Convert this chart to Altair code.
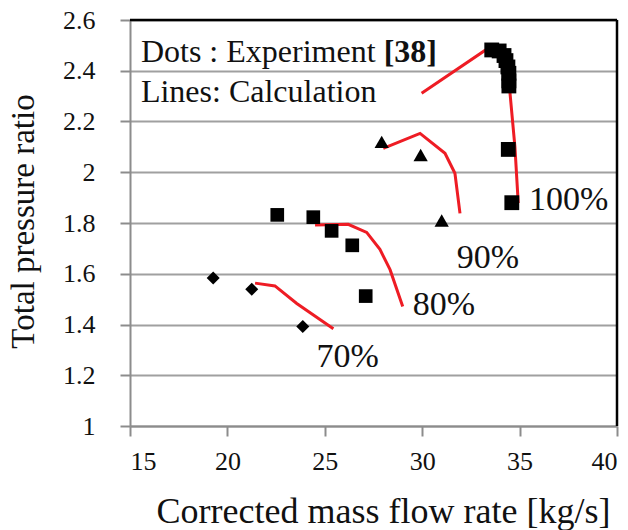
import altair as alt
import pandas as pd

# ---- Experiment (dots) ----
exp100_x = [33.57, 33.95, 34.2, 34.3, 34.4, 34.45, 34.45, 34.45, 34.42, 34.6]
exp100_y = [2.482, 2.478, 2.46, 2.44, 2.415, 2.39, 2.36, 2.34, 2.09, 1.88]
exp90_x = [27.92, 29.92, 31.0]
exp90_y = [2.12, 2.068, 1.81]
exp80_x = [22.56, 24.41, 25.35, 26.41, 27.1]
exp80_y = [1.832, 1.823, 1.769, 1.712, 1.512]
exp70_x = [19.27, 21.25, 23.87]
exp70_y = [1.583, 1.539, 1.392]

# ---- Calculation (lines) ----
calc100_x = [29.97, 33.22, 33.8, 34.2, 34.45, 34.51, 34.76, 34.93]
calc100_y = [2.311, 2.48, 2.47, 2.435, 2.37, 2.31, 2.10, 1.878]
calc90_x = [28.0, 29.89, 31.17, 31.68, 31.94]
calc90_y = [2.094, 2.153, 2.075, 1.996, 1.838]
calc80_x = [24.5, 26.2, 27.15, 27.83, 28.35, 29.0]
calc80_y = [1.792, 1.795, 1.763, 1.696, 1.616, 1.471]
calc70_x = [21.42, 22.44, 23.56, 25.44]
calc70_y = [1.563, 1.552, 1.483, 1.383]

# ---- Speed labels ----
speed_labels = ["100%", "90%", "80%", "70%"]
speed_label_x = [35.48, 31.77, 29.51, 24.58]
speed_label_y = [1.891, 1.664, 1.475, 1.27]

# ---- Note text ----
note_lines = ["Dots : Experiment", "Lines: Calculation"]
note_x = [15.56, 15.56]
note_y = [2.436, 2.277]
ref_text = ["[38]"]
ref_x = [28.02]
ref_y = [2.436]

x_ticks = [15, 20, 25, 30, 35, 40]
y_ticks = [1.0, 1.2, 1.4, 1.6, 1.8, 2.0, 2.2, 2.4, 2.6]

FONT = "Liberation Serif"
W, H = 487, 406

pts = []
for sp, xs, ys in [("100", exp100_x, exp100_y), ("90", exp90_x, exp90_y),
                   ("80", exp80_x, exp80_y), ("70", exp70_x, exp70_y)]:
    for a, b in zip(xs, ys):
        pts.append({"speed": sp, "x": a, "y": b})
pts = pd.DataFrame(pts)

lns = []
for sp, xs, ys in [("100", calc100_x, calc100_y), ("90", calc90_x, calc90_y),
                   ("80", calc80_x, calc80_y), ("70", calc70_x, calc70_y)]:
    for i, (a, b) in enumerate(zip(xs, ys)):
        lns.append({"speed": sp, "x": a, "y": b, "i": i})
lns = pd.DataFrame(lns)

labels = pd.DataFrame({"t": speed_labels, "x": speed_label_x, "y": speed_label_y})
notes = pd.DataFrame({"t": note_lines, "x": note_x, "y": note_y})
refs = pd.DataFrame({"t": ref_text, "x": ref_x, "y": ref_y})

xs = alt.Scale(domain=[15, 40], nice=False, zero=False)
ys = alt.Scale(domain=[1, 2.6], nice=False, zero=False)

xenc = alt.X("x:Q", scale=xs, axis=alt.Axis(
    values=x_ticks, grid=False, title="Corrected mass flow rate [kg/s]",
    tickSize=10, tickColor="#8c8c8c", tickWidth=2,
    domainColor="#8c8c8c", domainWidth=2,
    labelFont=FONT, labelFontSize=26, labelColor="#111", labelPadding=12,
    titleFont=FONT, titleFontSize=36, titleFontWeight="normal", titleColor="#111",
    titleX=253, titleY=96, titleBaseline="alphabetic"))
yenc = alt.Y("y:Q", scale=ys, axis=alt.Axis(
    values=y_ticks, format="~g", grid=True, gridColor="#a0a0a0", gridWidth=2,
    title="Total pressure ratio",
    tickSize=10, tickColor="#8c8c8c", tickWidth=2,
    domainColor="#8c8c8c", domainWidth=2,
    labelFont=FONT, labelFontSize=26, labelColor="#111", labelPadding=25,
    titleFont=FONT, titleFontSize=33, titleFontWeight="normal", titleColor="#111",
    titleX=-97, titleY=201, titleBaseline="alphabetic"))

lines = alt.Chart(lns).mark_line(color="#ee1c24", strokeWidth=3).encode(
    x=xenc, y=yenc, detail="speed:N", order="i:Q")

points = alt.Chart(pts).mark_point(filled=True, opacity=1, color="black", strokeWidth=0).encode(
    x="x:Q", y="y:Q",
    shape=alt.Shape("speed:N", scale=alt.Scale(domain=["100", "90", "80", "70"],
                    range=["square", "triangle-up", "square", "diamond"]), legend=None),
    size=alt.Size("speed:N", scale=alt.Scale(domain=["100", "90", "80", "70"],
                  range=[220, 170, 200, 170]), legend=None))

lab = alt.Chart(labels).mark_text(font=FONT, fontSize=34, align="left",
                                  baseline="middle", color="#111").encode(
    x="x:Q", y="y:Q", text="t:N")

note = alt.Chart(notes).mark_text(font=FONT, fontSize=32, align="left",
                                  baseline="alphabetic", color="#111").encode(
    x="x:Q", y="y:Q", text="t:N")
ref = alt.Chart(refs).mark_text(font=FONT, fontSize=32, align="left", fontWeight="bold",
                                baseline="alphabetic", color="#111").encode(
    x="x:Q", y="y:Q", text="t:N")

frame_df = pd.DataFrame({"k": [0]})
top_border = alt.Chart(frame_df).mark_rule(color="black", strokeWidth=2.5).encode(
    x=alt.value(0), x2=alt.value(W), y=alt.value(0))
right_border = alt.Chart(frame_df).mark_rule(color="black", strokeWidth=2.5).encode(
    x=alt.value(W), y=alt.value(0), y2=alt.value(H))

chart = alt.layer(lines, points, lab, note, ref, top_border, right_border).properties(
    width=W, height=H,
    padding={"left": 130, "top": 20, "right": 11, "bottom": 104},
    autosize=alt.AutoSizeParams(type="none"),
    background="white",
).configure_view(stroke=None)

chart.save("out.html", embed_options={"renderer": "svg", "actions": False})
